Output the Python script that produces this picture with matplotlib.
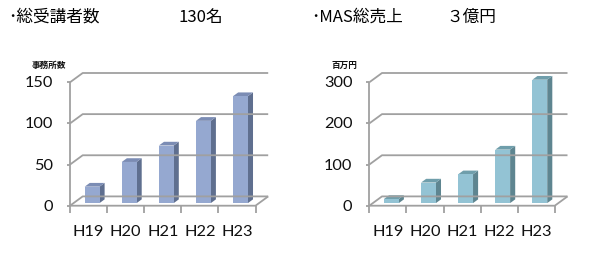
import matplotlib
matplotlib.use("Agg")
import matplotlib.pyplot as plt
from matplotlib.patches import Polygon

plt.rcParams['font.family'] = ['Noto Sans CJK JP', 'DejaVu Sans']

# data
years = ["H19", "H20", "H21", "H22", "H23"]
students = [20, 50, 70, 100, 130]
sales = [10, 50, 70, 130, 300]
students_ticks = [0, 50, 100, 150]
sales_ticks = [0, 100, 200, 300]

W, H = 597, 255
fig = plt.figure(figsize=(W / 100, H / 100), dpi=100)

# layout in pixels (front plane)
cat_px = 37.1      # width of one category
front_h = 123.4    # height of 0..ymax on the front plane
depth_x, depth_y = 12.7, 9.3   # 3d depth offset
grid_col = "#a0a0a0"


def draw_chart(left_px, values, ticks, face, side, top, unit):
    n = len(values)
    ymax = ticks[-1]
    dx = depth_x / cat_px
    dy = depth_y / front_h * ymax
    px_y = ymax / front_h   # data units per pixel (y)
    px_x = 1 / cat_px       # data units per pixel (x)
    ax_w = n * cat_px + depth_x
    ax_h = front_h + depth_y
    top_px = 74
    ax = fig.add_axes([left_px / W, 1 - (top_px + ax_h) / H, ax_w / W, ax_h / H])
    ax.set_xlim(0, n + dx)
    ax.set_ylim(0, ymax + dy)
    ax.axis("off")

    kw = dict(color=grid_col, lw=1.3, clip_on=False, solid_capstyle="butt")
    # side wall + back wall gridlines
    for t in ticks:
        ax.plot([0, dx, n + dx], [t, t + dy, t + dy], **kw)
        ax.plot([0, -3 * px_x], [t, t], **kw)
        ax.text(-17 * px_x, t, str(t), ha="right", va="center",
                family="Lato", fontsize=11.8, color="#101010")
    # floor
    ax.plot([0, n, n + dx], [0, 0, dy], **kw)
    ax.plot([0, 0], [0, ymax], **kw)
    for i in range(n + 1):
        ax.plot([i, i], [0, -7.3 * px_y], **kw)
    for i, y in enumerate(years):
        ax.text(i + 0.5, -25 * px_y, y, ha="center", va="center",
                family="Lato", fontsize=11.8, color="#101010")

    # bars
    w, f, d = 0.4, 0.28, 0.4
    for i, v in enumerate(values):
        x0 = i + 0.5 - w / 2 + f * dx
        y0 = f * dy
        ox, oy = d * dx, d * dy
        ax.add_patch(Polygon([(x0 + w, y0), (x0 + w + ox, y0 + oy),
                              (x0 + w + ox, y0 + v + oy), (x0 + w, y0 + v)],
                             closed=True, fc=side, ec="none", clip_on=False))
        ax.add_patch(Polygon([(x0, y0 + v), (x0 + w, y0 + v),
                              (x0 + w + ox, y0 + v + oy), (x0 + ox, y0 + v + oy)],
                             closed=True, fc=top, ec="none", clip_on=False))
        ax.add_patch(Polygon([(x0, y0), (x0 + w, y0), (x0 + w, y0 + v), (x0, y0 + v)],
                             closed=True, fc=face, ec="none", clip_on=False))

    # unit label
    ax.text(-38 * px_x, ymax + 18 * px_y, unit, ha="left", va="center",
            fontsize=6.2, fontweight="bold", color="#101010")
    return ax


draw_chart(70, students, students_ticks, "#95a8d0", "#5f6f8f", "#7b8cb4", "事務所数")
draw_chart(369.3, sales, sales_ticks, "#93c3d4", "#5e8590", "#6f9eab", "百万円")

# headings
fig.text(8 / W, 1 - 17 / H, "･総受講者数", fontsize=12, va="center", ha="left")
fig.text(178 / W, 1 - 17 / H, "130名", fontsize=12, va="center", ha="left")
fig.text(311 / W, 1 - 17 / H, "･MAS総売上", fontsize=12, va="center", ha="left")
fig.text(446 / W, 1 - 17 / H, "３億円", fontsize=12, va="center", ha="left")

fig.savefig("out.png", dpi=100)
